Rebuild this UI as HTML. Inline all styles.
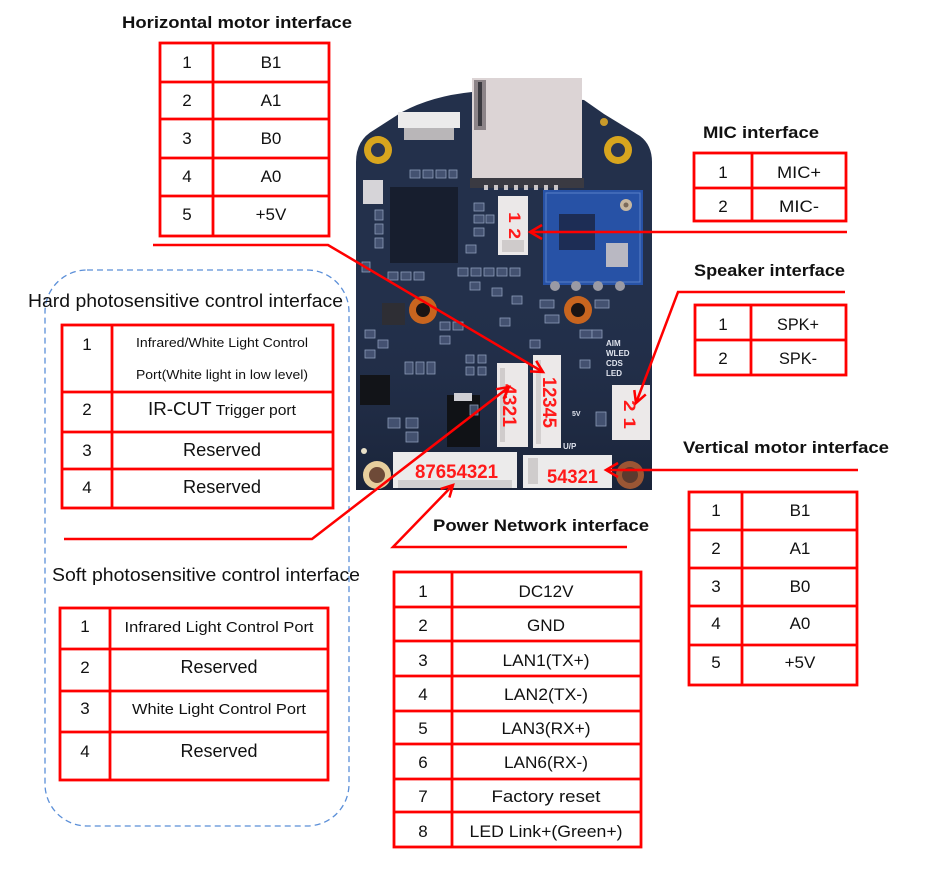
<!DOCTYPE html>
<html><head><meta charset="utf-8">
<style>
html,body{margin:0;padding:0;background:#fff;width:927px;height:872px;overflow:hidden}
svg{display:block}
</style></head>
<body>
<svg width="927" height="872" viewBox="0 0 927 872" xmlns="http://www.w3.org/2000/svg" font-family="'Liberation Sans', Arial, sans-serif">
<defs>
  <linearGradient id="bd" x1="0" y1="0" x2="0" y2="1">
    <stop offset="0" stop-color="#23304b" stop-opacity="0"/>
    <stop offset="1" stop-color="#1a2439" stop-opacity="1"/>
  </linearGradient>
</defs>
<rect width="927" height="872" fill="#fff"/>

<!-- ===== PCB ===== -->
<g>
  <path d="M356,490 L356,162 Q356,140 374,130 L402,112 Q432,96 472,92 L584,100 L604,114 L640,136 Q652,145 652,162 L652,490 Z" fill="#23304b"/>
  <rect x="356" y="280" width="296" height="210" fill="url(#bd)"/>
  <!-- SD card -->
  <rect x="472" y="78" width="110" height="102" fill="#dcd4d5"/>
  <rect x="474" y="80" width="12" height="50" fill="#8c8488"/>
  <rect x="478" y="82" width="4" height="44" fill="#3b3a40"/>
  <rect x="470" y="178" width="114" height="10" fill="#3a3a42"/>
  <g fill="#c9c4c6"><rect x="484" y="185" width="4" height="5"/><rect x="494" y="185" width="4" height="5"/><rect x="504" y="185" width="4" height="5"/><rect x="514" y="185" width="4" height="5"/><rect x="524" y="185" width="4" height="5"/><rect x="534" y="185" width="4" height="5"/><rect x="544" y="185" width="4" height="5"/><rect x="554" y="185" width="4" height="5"/></g>
  <!-- gold holes -->
  <circle cx="378" cy="150" r="14" fill="#d8a51e"/><circle cx="378" cy="150" r="7" fill="#2a3450"/>
  <circle cx="618" cy="150" r="14" fill="#d8a51e"/><circle cx="618" cy="150" r="7" fill="#2a3450"/>
  <circle cx="604" cy="122" r="4" fill="#c99a2a"/>
  <!-- copper holes -->
  <circle cx="423" cy="310" r="14" fill="#c8651f"/><circle cx="423" cy="310" r="7" fill="#1a1414"/>
  <circle cx="578" cy="310" r="14" fill="#c8651f"/><circle cx="578" cy="310" r="7" fill="#1a1414"/>
  <!-- bottom holes -->
  <circle cx="377" cy="475" r="14" fill="#e7cf9e"/><circle cx="377" cy="475" r="8" fill="#6e4a38"/>
  <circle cx="630" cy="475" r="14" fill="#9b5634"/><circle cx="630" cy="475" r="8" fill="#5c3a2e"/>
  <circle cx="364" cy="451" r="3" fill="#e8e0c8"/>
  <!-- top-left connector -->
  <rect x="398" y="112" width="62" height="16" fill="#ecebeb"/>
  <rect x="404" y="128" width="50" height="12" fill="#b9b6b8"/>
  <!-- small white part -->
  <rect x="363" y="180" width="20" height="24" fill="#d6d4d8"/>
  <!-- SoC -->
  <rect x="390" y="187" width="68" height="76" fill="#171e2e"/>
  <!-- WiFi module -->
  <rect x="543" y="190" width="100" height="95" fill="#2752a6"/>
  <rect x="546" y="193" width="94" height="89" fill="none" stroke="#5a80c8" stroke-width="1"/>
  <rect x="559" y="214" width="36" height="36" fill="#1d2d55"/>
  <rect x="606" y="243" width="22" height="24" fill="#b9b8c2"/>
  <circle cx="626" cy="205" r="6" fill="#c8b8a0"/><circle cx="626" cy="205" r="2.5" fill="#7a6a5a"/>
  <g fill="#9a9aa4"><circle cx="555" cy="286" r="5"/><circle cx="576" cy="286" r="5"/><circle cx="598" cy="286" r="5"/><circle cx="620" cy="286" r="5"/></g>
  <!-- dark parts -->
  <rect x="382" y="303" width="23" height="22" fill="#2e2e34"/>
  <rect x="360" y="375" width="30" height="30" fill="#121418"/>
  <rect x="447" y="395" width="33" height="52" fill="#101216"/>
  <rect x="454" y="393" width="18" height="8" fill="#cfcfd4"/>
  <!-- SMD outlines -->
  <g fill="#4a5878" stroke="#9fb0cc" stroke-width="0.8" opacity="0.85">
    <rect x="410" y="170" width="10" height="8"/><rect x="423" y="170" width="10" height="8"/><rect x="436" y="170" width="10" height="8"/><rect x="449" y="170" width="8" height="8"/>
    <rect x="375" y="210" width="8" height="10"/><rect x="375" y="224" width="8" height="10"/><rect x="375" y="238" width="8" height="10"/>
    <rect x="474" y="203" width="10" height="8"/><rect x="474" y="215" width="10" height="8"/><rect x="474" y="228" width="10" height="8"/><rect x="486" y="215" width="8" height="8"/>
    <rect x="388" y="272" width="10" height="8"/><rect x="401" y="272" width="10" height="8"/><rect x="414" y="272" width="10" height="8"/>
    <rect x="458" y="268" width="10" height="8"/><rect x="471" y="268" width="10" height="8"/><rect x="484" y="268" width="10" height="8"/><rect x="497" y="268" width="10" height="8"/><rect x="510" y="268" width="10" height="8"/>
    <rect x="470" y="282" width="10" height="8"/><rect x="492" y="288" width="10" height="8"/><rect x="512" y="296" width="10" height="8"/>
    <rect x="540" y="300" width="14" height="8"/><rect x="545" y="315" width="14" height="8"/>
    <rect x="595" y="300" width="14" height="8"/><rect x="580" y="330" width="12" height="8"/>
    <rect x="365" y="330" width="10" height="8"/><rect x="378" y="340" width="10" height="8"/><rect x="365" y="350" width="10" height="8"/>
    <rect x="440" y="322" width="10" height="8"/><rect x="453" y="322" width="10" height="8"/><rect x="440" y="336" width="10" height="8"/>
    <rect x="466" y="355" width="8" height="8"/><rect x="478" y="355" width="8" height="8"/><rect x="466" y="367" width="8" height="8"/><rect x="478" y="367" width="8" height="8"/>
    <rect x="405" y="362" width="8" height="12"/><rect x="416" y="362" width="8" height="12"/><rect x="427" y="362" width="8" height="12"/>
    <rect x="388" y="418" width="12" height="10"/><rect x="406" y="418" width="12" height="10"/><rect x="406" y="432" width="12" height="10"/>
    <rect x="592" y="330" width="10" height="8"/><rect x="530" y="340" width="10" height="8"/>
    <rect x="596" y="412" width="10" height="14"/>
    <rect x="362" y="262" width="8" height="10"/><rect x="466" y="245" width="10" height="8"/><rect x="500" y="318" width="10" height="8"/>
    <rect x="470" y="405" width="8" height="10"/><rect x="580" y="360" width="10" height="8"/>
  </g>
  <g fill="#e0e4ee" font-size="8" font-weight="bold">
    <text x="606" y="346">AIM</text><text x="606" y="356">WLED</text><text x="606" y="366">CDS</text><text x="606" y="376">LED</text>
    <text x="563" y="449" font-size="8">U/P</text>
    <text x="572" y="416" font-size="7">5V</text>
  </g>
  <!-- connectors -->
  <rect x="498" y="196" width="30" height="59" fill="#ebe8e8"/>
  <rect x="502" y="240" width="22" height="12" fill="#cfcbcb"/>
  <rect x="533" y="355" width="28" height="93" fill="#ece9e9"/>
  <rect x="536" y="360" width="5" height="84" fill="#d4d0d0"/>
  <rect x="497" y="363" width="31" height="84" fill="#ebe8e8"/>
  <rect x="500" y="368" width="5" height="74" fill="#d0cccc"/>
  <rect x="612" y="385" width="38" height="55" fill="#ece9e9"/>
  <rect x="393" y="452" width="124" height="36" fill="#ecebeb"/>
  <rect x="398" y="480" width="114" height="8" fill="#d2d0d0"/>
  <rect x="523" y="455" width="89" height="33" fill="#ecebeb"/>
  <rect x="528" y="458" width="10" height="26" fill="#cfcccc"/>
  <!-- red labels on board -->
  <g fill="#ff1a1a" font-weight="bold">
    <text transform="translate(509,212) rotate(90)" font-size="17" textLength="27" lengthAdjust="spacingAndGlyphs">1 2</text>
    <text transform="translate(543,377) rotate(90)" font-size="19" textLength="51" lengthAdjust="spacingAndGlyphs">12345</text>
    <text transform="translate(503,384) rotate(90)" font-size="19" textLength="43" lengthAdjust="spacingAndGlyphs">4321</text>
    <text transform="translate(624,400) rotate(90)" font-size="17" textLength="29" lengthAdjust="spacingAndGlyphs">2 1</text>
    <text x="415" y="478" font-size="19" textLength="83" lengthAdjust="spacingAndGlyphs">87654321</text>
    <text x="547" y="483" font-size="19" textLength="51" lengthAdjust="spacingAndGlyphs">54321</text>
  </g>
</g>

<!-- ===== dashed group box ===== -->
<rect x="45" y="270" width="304" height="556" rx="42" ry="42" fill="none" stroke="#5b8fd8" stroke-width="1.3" stroke-dasharray="6,4"/>

<!-- ===== connector lines ===== -->
<g fill="none" stroke="#ff0000" stroke-width="2.5" stroke-linejoin="miter">
  <polyline points="153,245 328,245 543,372"/>
  <polyline points="536.2,360.9 543,372 530,371.4"/>
  <polyline points="847,232 530,232"/>
  <polyline points="542,225 530,232 542,239"/>
  <polyline points="845,292 678,292 636,403"/>
  <polyline points="645.8,394.4 636,403 634.3,390.1"/>
  <polyline points="858,470 606,470"/>
  <polyline points="618,463 606,470 618,477"/>
  <polyline points="627,547 393,547 453,485"/>
  <polyline points="440.6,489 453,485 449.4,497.5"/>
  <polyline points="64,539 312,539 509,387"/>
  <polyline points="496.2,389.2 509,387 503.6,398.8"/>
</g>

<!-- ===== titles ===== -->
<g fill="#111" font-size="17" font-weight="bold">
  <text x="122" y="28" textLength="230" lengthAdjust="spacingAndGlyphs">Horizontal motor interface</text>
  <text x="703" y="138" textLength="116" lengthAdjust="spacingAndGlyphs">MIC interface</text>
  <text x="694" y="276" textLength="151" lengthAdjust="spacingAndGlyphs">Speaker interface</text>
  <text x="683" y="453" textLength="206" lengthAdjust="spacingAndGlyphs">Vertical motor interface</text>
  <text x="433" y="531" textLength="216" lengthAdjust="spacingAndGlyphs">Power Network interface</text>
</g>
<g fill="#111" font-size="18">
  <text x="28" y="307" textLength="315" lengthAdjust="spacingAndGlyphs">Hard photosensitive control interface</text>
  <text x="52" y="581" textLength="308" lengthAdjust="spacingAndGlyphs">Soft photosensitive control interface</text>
</g>

<!-- ===== tables ===== -->
<g fill="none" stroke="#ff0000" stroke-width="2.8">
  <rect x="160" y="43" width="169" height="193"/>
  <line x1="213" y1="43" x2="213" y2="236"/>
  <line x1="160" y1="82" x2="329" y2="82"/><line x1="160" y1="119" x2="329" y2="119"/><line x1="160" y1="158" x2="329" y2="158"/><line x1="160" y1="196" x2="329" y2="196"/>
  <rect x="694" y="153" width="152" height="68"/>
  <line x1="752" y1="153" x2="752" y2="221"/><line x1="694" y1="188" x2="846" y2="188"/>
  <rect x="695" y="305" width="151" height="70"/>
  <line x1="751" y1="305" x2="751" y2="375"/><line x1="695" y1="340" x2="846" y2="340"/>
  <rect x="689" y="492" width="168" height="193"/>
  <line x1="742" y1="492" x2="742" y2="685"/>
  <line x1="689" y1="530" x2="857" y2="530"/><line x1="689" y1="568" x2="857" y2="568"/><line x1="689" y1="606" x2="857" y2="606"/><line x1="689" y1="645" x2="857" y2="645"/>
  <rect x="394" y="572" width="247" height="275"/>
  <line x1="452" y1="572" x2="452" y2="847"/>
  <line x1="394" y1="607" x2="641" y2="607"/><line x1="394" y1="641" x2="641" y2="641"/><line x1="394" y1="676" x2="641" y2="676"/><line x1="394" y1="711" x2="641" y2="711"/><line x1="394" y1="744" x2="641" y2="744"/><line x1="394" y1="779" x2="641" y2="779"/><line x1="394" y1="812" x2="641" y2="812"/>
  <rect x="62" y="325" width="271" height="183"/>
  <line x1="112" y1="325" x2="112" y2="508"/>
  <line x1="62" y1="392" x2="333" y2="392"/><line x1="62" y1="432" x2="333" y2="432"/><line x1="62" y1="469" x2="333" y2="469"/>
  <rect x="60" y="608" width="268" height="172"/>
  <line x1="110" y1="608" x2="110" y2="780"/>
  <line x1="60" y1="649" x2="328" y2="649"/><line x1="60" y1="691" x2="328" y2="691"/><line x1="60" y1="732" x2="328" y2="732"/>
</g>

<g fill="#111" font-size="17" text-anchor="middle">
  <text x="187" y="68">1</text><text x="271" y="68">B1</text>
  <text x="187" y="106">2</text><text x="271" y="106">A1</text>
  <text x="187" y="144">3</text><text x="271" y="144">B0</text>
  <text x="187" y="182">4</text><text x="271" y="182">A0</text>
  <text x="187" y="220">5</text><text x="271" y="220">+5V</text>
  <text x="723" y="178">1</text><text x="799" y="178" textLength="44" lengthAdjust="spacingAndGlyphs">MIC+</text>
  <text x="723" y="212">2</text><text x="799" y="212" textLength="40" lengthAdjust="spacingAndGlyphs">MIC-</text>
  <text x="723" y="330">1</text><text x="798" y="330" textLength="42" lengthAdjust="spacingAndGlyphs">SPK+</text>
  <text x="723" y="364">2</text><text x="798" y="364" textLength="38" lengthAdjust="spacingAndGlyphs">SPK-</text>
  <text x="716" y="516">1</text><text x="800" y="516">B1</text>
  <text x="716" y="554">2</text><text x="800" y="554">A1</text>
  <text x="716" y="592">3</text><text x="800" y="592">B0</text>
  <text x="716" y="629">4</text><text x="800" y="629">A0</text>
  <text x="716" y="668">5</text><text x="800" y="668">+5V</text>
  <text x="423" y="597">1</text><text x="546" y="597" textLength="55" lengthAdjust="spacingAndGlyphs">DC12V</text>
  <text x="423" y="631">2</text><text x="546" y="631" textLength="38" lengthAdjust="spacingAndGlyphs">GND</text>
  <text x="423" y="666">3</text><text x="546" y="666" textLength="87" lengthAdjust="spacingAndGlyphs">LAN1(TX+)</text>
  <text x="423" y="700">4</text><text x="546" y="700" textLength="84" lengthAdjust="spacingAndGlyphs">LAN2(TX-)</text>
  <text x="423" y="734">5</text><text x="546" y="734" textLength="89" lengthAdjust="spacingAndGlyphs">LAN3(RX+)</text>
  <text x="423" y="768">6</text><text x="546" y="768" textLength="84" lengthAdjust="spacingAndGlyphs">LAN6(RX-)</text>
  <text x="423" y="802">7</text><text x="546" y="802" textLength="109" lengthAdjust="spacingAndGlyphs">Factory reset</text>
  <text x="423" y="837">8</text><text x="546" y="837" textLength="153" lengthAdjust="spacingAndGlyphs">LED Link+(Green+)</text>
  <text x="87" y="350">1</text>
  <text x="222" y="347" font-size="13" textLength="172" lengthAdjust="spacingAndGlyphs">Infrared/White Light Control</text>
  <text x="222" y="379" font-size="13" textLength="172" lengthAdjust="spacingAndGlyphs">Port(White light in low level)</text>
  <text x="87" y="415">2</text>
  <text x="222" y="415" textLength="148" lengthAdjust="spacingAndGlyphs"><tspan font-size="18">IR-CUT</tspan><tspan font-size="15"> Trigger port</tspan></text>
  <text x="87" y="456">3</text><text x="222" y="456" font-size="18" textLength="78" lengthAdjust="spacingAndGlyphs">Reserved</text>
  <text x="87" y="493">4</text><text x="222" y="493" font-size="18" textLength="78" lengthAdjust="spacingAndGlyphs">Reserved</text>
  <text x="85" y="632">1</text><text x="219" y="632" font-size="15" textLength="189" lengthAdjust="spacingAndGlyphs">Infrared Light Control Port</text>
  <text x="85" y="673">2</text><text x="219" y="673" font-size="18" textLength="77" lengthAdjust="spacingAndGlyphs">Reserved</text>
  <text x="85" y="714">3</text><text x="219" y="714" font-size="15" textLength="174" lengthAdjust="spacingAndGlyphs">White Light Control Port</text>
  <text x="85" y="757">4</text><text x="219" y="757" font-size="18" textLength="77" lengthAdjust="spacingAndGlyphs">Reserved</text>
</g>
</svg>
</body></html>
